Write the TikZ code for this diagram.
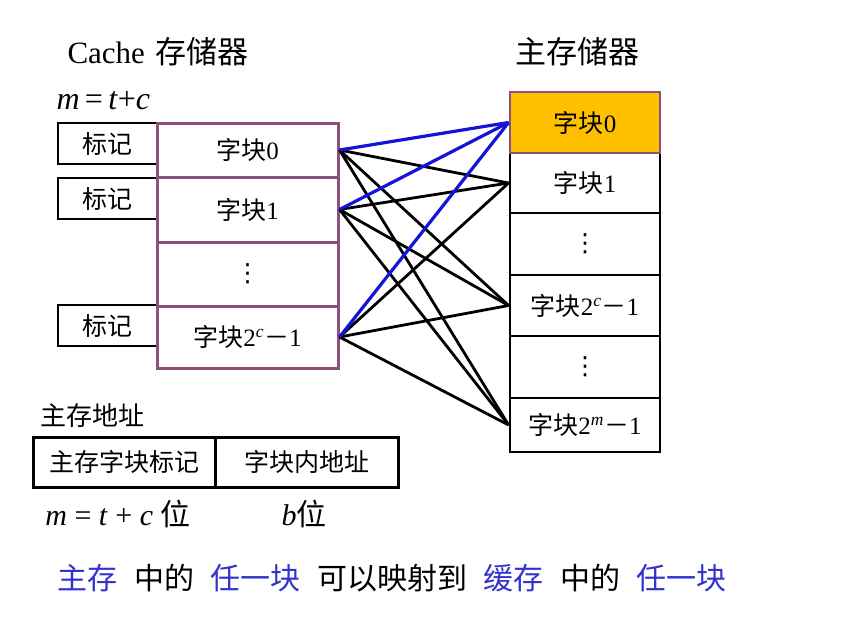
\documentclass[tikz,border=0pt]{standalone}
\usepackage{fontspec}
\setmainfont{Liberation Serif}
\newfontfamily\cjk{Noto Sans CJK SC}
\newfontfamily\symfont{DejaVu Sans}
\newcommand\zh[1]{{\cjk #1}}
\newcommand\vdotsym{{\symfont ⋮}}
\definecolor{cachepurple}{RGB}{140,82,122}
\definecolor{blockorange}{RGB}{255,192,0}
\definecolor{mapblue}{RGB}{20,20,215}
\definecolor{hlblue}{RGB}{50,50,205}
\begin{document}
\begin{tikzpicture}[x=1pt,y=-1pt,
  txt/.style={font=\fontsize{25}{30}\selectfont},
  cell/.style={txt,draw=cachepurple,line width=3pt,fill=white,
    minimum width=181pt,inner sep=0pt},
  tagbox/.style={txt,draw=black,line width=2.8pt,fill=white,
    minimum width=99pt,minimum height=41pt,inner sep=0pt},
  memcell/.style={txt,draw=black,line width=2.8pt,fill=white,
    minimum width=150pt,inner sep=0pt},
  addrbox/.style={txt,draw=black,line width=3pt,
    minimum height=50pt,inner sep=0pt},
  maplink/.style={line width=2.8pt,black},
  bluelink/.style={line width=3.2pt,mapblue}]
\useasboundingbox (0,0) rectangle (864,619);

% headings
\node[anchor=west,font=\fontsize{31}{36}\selectfont] (cachetitle) at (64,52) {Cache\hspace{11pt}\zh{存储器}};
\node[anchor=west,font=\fontsize{31}{36}\selectfont] (memtitle) at (512,52) {\zh{主存储器}};
\node[anchor=west,font=\fontsize{32}{36}\selectfont] (formula) at (53,101) {\textit{m}\,=\,\textit{t}+\textit{c}};

% tag boxes
\node[tagbox] (t0) at (107.5,143.5) {\zh{标记}};
\node[tagbox] (t1) at (107.5,198.5) {\zh{标记}};
\node[tagbox] (t2) at (107.5,325.5) {\zh{标记}};

% cache lines
\node[cell,minimum height=54pt] (c0) at (247.5,150) {\zh{字块}0};
\node[cell,minimum height=65pt] (c1) at (247.5,209.5) {\zh{字块}1};
\node[cell,minimum height=64pt] (cd) at (247.5,274) {\vdotsym};
\node[cell,minimum height=62pt] (c2) at (247.5,337) {\zh{字块}2\textsuperscript{\textit{c}}\zh{－}1};

% main memory blocks
\node[memcell,minimum height=60pt] (m1) at (585,183) {\zh{字块}1};
\node[memcell,minimum height=62pt] (md1) at (585,244) {\vdotsym};
\node[memcell,minimum height=61pt] (m2c) at (585,305.5) {\zh{字块}2\textsuperscript{\textit{c}}\zh{－}1};
\node[memcell,minimum height=62pt] (md2) at (585,367) {\vdotsym};
\node[memcell,minimum height=54pt] (m2m) at (585,425) {\zh{字块}2\textsuperscript{\textit{m}}\zh{－}1};
\node[memcell,draw=cachepurple,fill=blockorange,minimum height=61pt] (m0) at (585,122.5) {\zh{字块}0};

% any cache line may hold any memory block
\foreach \c in {c0,c1,c2}{
  \draw[maplink] (\c.east) -- (m1.west);
  \draw[maplink] (\c.east) -- (m2c.west);
  \draw[maplink] (\c.east) -- (m2m.west);
}
\foreach \c in {c0,c1,c2}{
  \draw[bluelink] (\c.east) -- (m0.west);
}

% main memory address format
\node[anchor=west,font=\fontsize{26}{30}\selectfont] (addrtitle) at (37,416) {\zh{主存地址}};
\node[addrbox,minimum width=182pt] (a1) at (124,462) {\zh{主存字块标记}};
\node[addrbox,minimum width=183pt] (a2) at (306.5,462) {\zh{字块内地址}};
\node[font=\fontsize{30}{34}\selectfont] (w1) at (118,514) {\textit{m} = \textit{t} + \textit{c} \zh{位}};
\node[font=\fontsize{30}{34}\selectfont] (w2) at (304,514) {\textit{b}\zh{位}};

% caption
\node[anchor=west,font=\fontsize{30}{34}\selectfont] (caption) at (54,578)
  {\textcolor{hlblue}{\zh{主存}}\hspace{16.5pt}\zh{中的}\hspace{16.5pt}\textcolor{hlblue}{\zh{任一块}}\hspace{16.5pt}\zh{可以映射到}\hspace{16.5pt}\textcolor{hlblue}{\zh{缓存}}\hspace{16.5pt}\zh{中的}\hspace{16.5pt}\textcolor{hlblue}{\zh{任一块}}};
\end{tikzpicture}
\end{document}
